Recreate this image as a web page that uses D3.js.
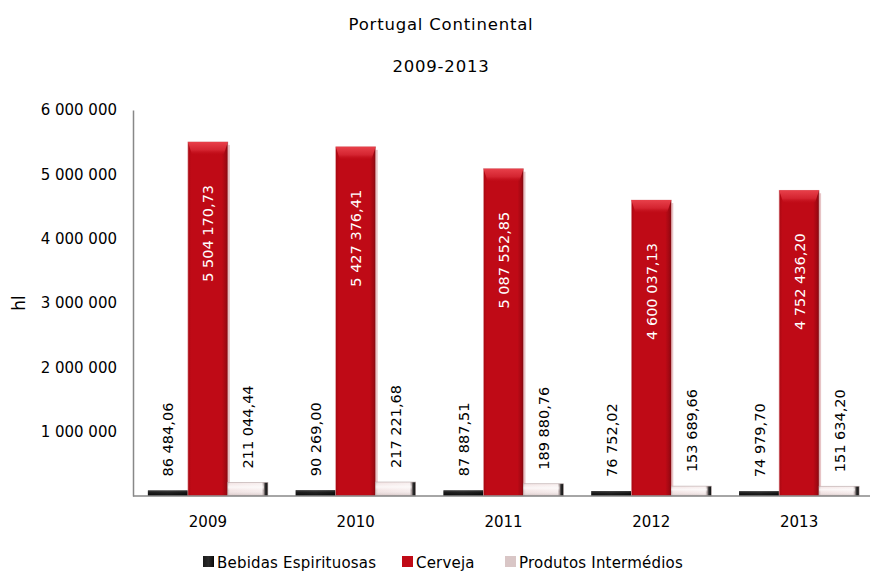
<!DOCTYPE html>
<html>
<head>
<meta charset="utf-8">
<script src="https://cdn.jsdelivr.net/npm/d3@7"></script>
<style>
  html, body { margin: 0; padding: 0; background: #fff; }
  svg { display: block; }
  text { font-family: "DejaVu Sans", Verdana, sans-serif; fill: #000; }
</style>
</head>
<body>
<svg id="chart" width="870" height="573"></svg>
<script>
// Annual volumes (hl), Portugal Continental
const years = ["2009", "2010", "2011", "2012", "2013"];
const seriesNames = ["Bebidas Espirituosas", "Cerveja", "Produtos Intermédios"];
const bebidas = [86484.06, 90269.00, 87887.51, 76752.02, 74979.70];
const cerveja = [5504170.73, 5427376.41, 5087552.85, 4600037.13, 4752436.20];
const produtos = [211044.44, 217221.68, 189880.76, 153689.66, 151634.20];
const yTicks = [1000000, 2000000, 3000000, 4000000, 5000000, 6000000];
const titleLines = ["Portugal Continental", "2009-2013"];
const yTitle = "hl";

const seriesValues = [bebidas, cerveja, produtos];
const rows = years.map((y, i) => ({
  year: y,
  values: seriesNames.map((s, k) => ({ series: s, k, value: seriesValues[k][i] }))
}));

const pt = d3.formatLocale({ decimal: ",", thousands: " ", grouping: [3], currency: ["", " €"] });
const fmtVal = pt.format(",.2f");
const fmtTick = pt.format(",.0f");

const svg = d3.select("#chart");
const defs = svg.append("defs");

// Gradients giving the bars their bevelled look
function hGrad(id, stops) {
  const g = defs.append("linearGradient").attr("id", id).attr("x1", 0).attr("x2", 1).attr("y1", 0).attr("y2", 0);
  stops.forEach(([o, c]) => g.append("stop").attr("offset", o).attr("stop-color", c));
}
function vGrad(id, stops) {
  const g = defs.append("linearGradient").attr("id", id).attr("x1", 0).attr("x2", 0).attr("y1", 0).attr("y2", 1);
  stops.forEach(([o, c, a]) => g.append("stop").attr("offset", o).attr("stop-color", c).attr("stop-opacity", a == null ? 1 : a));
}
hGrad("gRed", [[0, "#a80812"], [0.08, "#bf0a16"], [0.85, "#bf0a16"], [0.95, "#a00812"], [1, "#7a0a10"]]);
vGrad("gRedTop", [[0, "#e8404a"], [0.6, "#d42430"], [1, "#bf0a16", 0]]);
hGrad("gBlack", [[0, "#1a1a1a"], [0.5, "#2a2a2a"], [0.92, "#111"], [1, "#000"]]);
vGrad("gBlackV", [[0, "#555"], [0.4, "#1c1c1c"], [1, "#000"]]);
hGrad("gPink", [[0, "#d8c4c4"], [0.06, "#f2e2e2"], [0.85, "#f6ecec"], [0.9, "#9a8c8c"], [0.94, "#2a2a2a"], [1, "#111"]]);
vGrad("gPinkV", [[0, "#ffffff", 0.0], [0.35, "#ffffff", 0.7], [0.6, "#ffffff", 0.1], [1, "#b09a9a", 0.5]]);
const legendFill = ["url(#gBlack)", "#c00a16", "#d9c6c6"];

const x = d3.scaleBand().domain(years).range([134, 873]);
const xInner = d3.scaleBand().domain(d3.range(seriesNames.length)).range([-60, 60]);
const y = d3.scaleLinear().domain([0, 6000000]).range([496, 110]);

// Titles
svg.selectAll("text.title").data(titleLines).join("text")
  .attr("class", "title")
  .attr("x", 441).attr("y", (d, i) => 30 + i * 42)
  .attr("text-anchor", "middle")
  .style("font-size", "16.5px")
  .style("letter-spacing", "0.8px")
  .text(d => d);

// Y axis: labels only, plus a grey spine
const yAxis = d3.axisLeft(y).tickValues(yTicks).tickFormat(fmtTick).tickSize(0).tickPadding(16);
const gy = svg.append("g").attr("transform", "translate(133,0)").call(yAxis);
gy.select(".domain").attr("stroke", "#888").attr("stroke-width", 1.5);
gy.selectAll("text").style("font-size", "15px").style("font-family", "DejaVu Sans, Verdana, sans-serif");

svg.append("text")
  .attr("transform", `translate(25,${y(3000000)}) rotate(-90)`)
  .attr("text-anchor", "middle")
  .style("font-size", "17px")
  .text(yTitle);

// Bars
const groups = svg.append("g").selectAll("g.year").data(rows).join("g")
  .attr("class", "year")
  .attr("transform", d => `translate(${x(d.year) + x.bandwidth() / 2},0)`);

const bw = xInner.bandwidth();
groups.each(function (row) {
  const g = d3.select(this);
  row.values.forEach(v => {
    const x0 = xInner(v.k);
    const top = y(v.value);
    const h = y(0) - top;
    if (v.k === 1) {
      // soft shadow on the right
      g.append("rect").attr("x", x0 + bw - 1).attr("y", top + 3).attr("width", 3).attr("height", h - 3)
        .attr("fill", "#e7c4c6");
      g.append("rect").attr("x", x0).attr("y", top).attr("width", bw).attr("height", h)
        .attr("fill", "url(#gRed)").attr("stroke", "#e0a0a4").attr("stroke-width", 0.6);
      g.append("path")
        .attr("d", `M${x0},${top} L${x0 + bw},${top} L${x0 + bw - 4},${top + 12} Q${x0 + bw / 2},${top + 15} ${x0 + 4},${top + 12} Z`)
        .attr("fill", "url(#gRedTop)");
    } else if (v.k === 0) {
      g.append("rect").attr("x", x0).attr("y", top).attr("width", bw).attr("height", h)
        .attr("fill", "url(#gBlack)");
      g.append("rect").attr("x", x0).attr("y", top).attr("width", bw).attr("height", h)
        .attr("fill", "url(#gBlackV)").attr("opacity", 0.6);
    } else {
      g.append("rect").attr("x", x0).attr("y", top).attr("width", bw).attr("height", h)
        .attr("fill", "url(#gPink)").attr("stroke", "#b8a8a8").attr("stroke-width", 0.6);
      g.append("rect").attr("x", x0).attr("y", top).attr("width", bw - 4).attr("height", h)
        .attr("fill", "url(#gPinkV)");
    }
  });
});

// Value labels (rotated)
groups.each(function (row) {
  const g = d3.select(this);
  row.values.forEach(v => {
    const cx = xInner(v.k) + bw / 2;
    const top = y(v.value);
    const inside = v.k === 1;
    const ty = inside ? top + 43 : top - 14;
    g.append("text")
      .attr("class", "value-label")
      .attr("transform", `translate(${cx + 5.5},${ty}) rotate(-90)`)
      .attr("text-anchor", inside ? "end" : "start")
      .style("font-size", "14.5px")
      .style("fill", inside ? "#fff" : "#000")
      .text(fmtVal(v.value));
  });
});

// X axis
svg.append("line").attr("x1", 133).attr("x2", 870).attr("y1", y(0)).attr("y2", y(0))
  .attr("stroke", "#888").attr("stroke-width", 1.5);
svg.selectAll("text.cat").data(years).join("text")
  .attr("class", "cat")
  .attr("x", d => x(d) + x.bandwidth() / 2)
  .attr("y", 527)
  .attr("text-anchor", "middle")
  .style("font-size", "15px")
  .text(d => d);

// Legend
const legendX = [203, 402, 505];
const lg = svg.append("g").selectAll("g").data(seriesNames).join("g")
  .attr("transform", (d, i) => `translate(${legendX[i]},556)`);
lg.append("rect").attr("width", 11).attr("height", 11).attr("fill", (d, i) => legendFill[i]);
lg.append("text").attr("x", 14).attr("y", 11.5)
  .style("font-size", "15px")
  .style("letter-spacing", "0.2px")
  .text(d => d);
</script>
</body>
</html>
